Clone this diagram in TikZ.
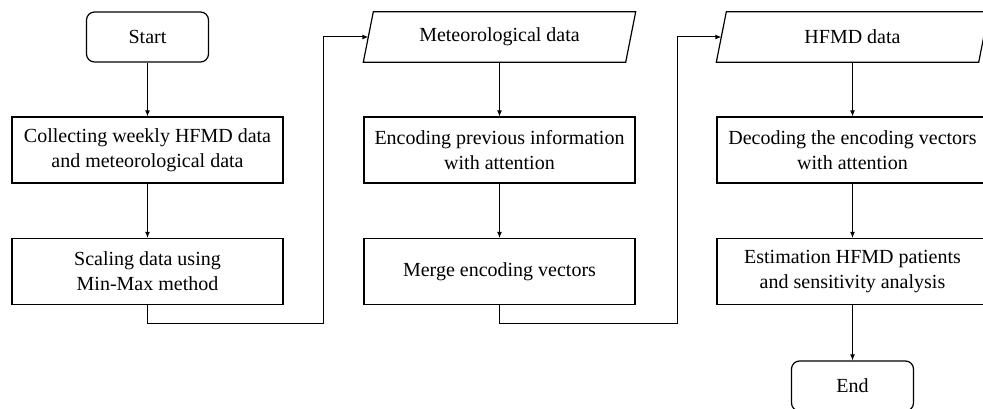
\documentclass[tikz,border=0pt]{standalone}
\usepackage{fontspec}
\setmainfont{Liberation Serif}
\usetikzlibrary{arrows.meta}
\begin{document}
\begin{tikzpicture}[x=1pt,y=-1pt,
  every node/.style={font=\fontsize{20}{25}\selectfont, align=center, inner sep=0pt},
  procbox/.style={draw, line width=1.2pt, minimum width=271pt, minimum height=66pt},
  termbox/.style={draw, line width=1.2pt, rounded corners=8pt, minimum width=122pt, minimum height=50pt},
  iobody/.style={minimum width=262pt, minimum height=50pt},
  iooutline/.style={draw, line width=1.2pt},
  arr/.style={line width=1pt, -{Latex[length=6pt,width=5pt]}}]
\useasboundingbox (0,0) rectangle (983,409);

% first column
\node[termbox] (start) at (147.5,37) {Start};
\node[procbox] (collect) at (147.5,150) {Collecting weekly HFMD data\\and meteorological data};
\node[procbox] (scale) at (147.5,271.5) {Scaling data using\\Min-Max method};

% second column
\node[iobody] (met) at (499.5,37) {Meteorological data};
\draw[iooutline] ([xshift=-5pt]met.south west) -- ([xshift=5pt]met.north west)
  -- ([xshift=5pt]met.north east) -- ([xshift=-5pt]met.south east) -- cycle;
\node[procbox] (enc) at (499.5,150) {Encoding previous information\\with attention};
\node[procbox] (merge) at (499.5,271.5) {Merge encoding vectors};

% third column
\node[iobody] (hfmd) at (852.5,37) {HFMD data};
\draw[iooutline] ([xshift=-5pt]hfmd.south west) -- ([xshift=5pt]hfmd.north west)
  -- ([xshift=5pt]hfmd.north east) -- ([xshift=-5pt]hfmd.south east) -- cycle;
\node[procbox] (dec) at (852.5,150) {Decoding the encoding vectors\\with attention};
\node[procbox] (est) at (852.5,271.5) {Estimation HFMD patients\\and sensitivity analysis};
\node[termbox] (end) at (852.5,386) {End};

% routing corners between columns
\coordinate (j1) at (323,323);
\coordinate (j2) at (677,323.5);

% connectors
\draw[arr] (start) -- (collect);
\draw[arr] (collect) -- (scale);
\draw[arr] (scale.south) |- (j1) |- (met.west);
\draw[arr] (met) -- (enc);
\draw[arr] (enc) -- (merge);
\draw[arr] (merge.south) |- (j2) |- (hfmd.west);
\draw[arr] (hfmd) -- (dec);
\draw[arr] (dec) -- (est);
\draw[arr] (est) -- (end);
\end{tikzpicture}
\end{document}
